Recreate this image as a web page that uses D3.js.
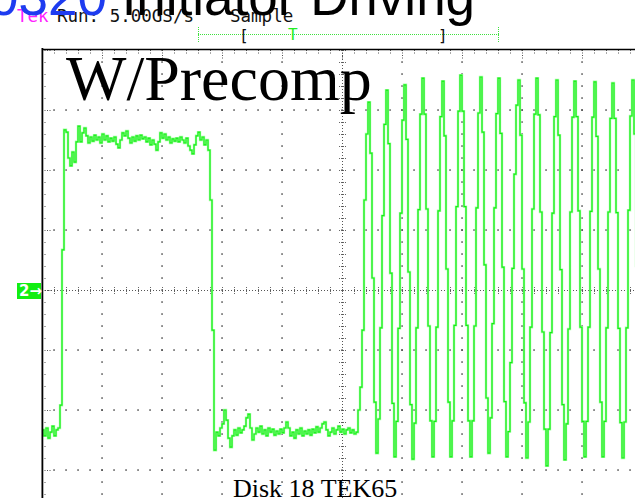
<!DOCTYPE html>
<html>
<head>
<meta charset="utf-8">
<script src="https://cdn.jsdelivr.net/npm/d3@7"></script>
<style>
  html, body { margin: 0; padding: 0; background: #ffffff; }
  svg { display: block; }
</style>
</head>
<body>
<svg id="scope" width="635" height="498"></svg>
<script>
// Channel 2 record, in vertical divisions from the ground marker, one sample per 1/30 div.
const leadIn = [-2.33, -2.43, -2.30, -2.47, -2.37, -2.27, -2.43, -2.33, -2.30, -1.92];
const highPulse = [
  0.67, 2.67, 2.63, 2.2, 2.07, 2.3, 2.13, 2.47, 2.73, 2.47,
  2.62, 2.7, 2.57, 2.45, 2.55, 2.48, 2.58, 2.5, 2.55, 2.45,
  2.6, 2.5, 2.57, 2.47, 2.53, 2.48, 2.55, 2.43, 2.37, 2.5,
  2.62, 2.57, 2.65, 2.53, 2.45, 2.55, 2.48, 2.57, 2.5, 2.58,
  2.52, 2.55, 2.47, 2.53, 2.42, 2.5, 2.43, 2.33, 2.47, 2.62,
  2.53, 2.6, 2.5, 2.55, 2.45, 2.52, 2.48, 2.53, 2.47, 2.55,
  2.5, 2.45, 2.53, 2.4, 2.33, 2.27, 2.42, 2.57, 2.63, 2.5,
  2.55, 2.42, 2.5, 2.33, 1.5, -0.67
];
const lowRun = [
  -2.67, -2.37, -2.43, -2.3, -2.23, -2.0, -2.17, -2.47, -2.62, -2.43,
  -2.33, -2.42, -2.3, -2.38, -2.33, -2.27, -2.13, -2.07, -2.3, -2.5,
  -2.4, -2.3, -2.37, -2.27, -2.4, -2.33, -2.43, -2.3, -2.37, -2.32,
  -2.42, -2.35, -2.4, -2.32, -2.38, -2.3, -2.2, -2.3, -2.43, -2.37,
  -2.47, -2.33, -2.4, -2.3, -2.43, -2.35, -2.4, -2.33, -2.42, -2.32,
  -2.38, -2.28, -2.37, -2.3, -2.23, -2.2, -2.33, -2.43, -2.37, -2.3,
  -2.4, -2.33, -2.27, -2.37, -2.32, -2.4, -2.33, -2.3, -2.38, -2.33, -2.4, -2.37
];
const toneBurst = [
  -2.0, -1.62, -0.67, 1.5, 2.6, 3.13, 2.28, 0.2, -1.87, -2.72,
  -2.15, -0.63, 1.24, 2.76, 3.33, 2.44, 0.28, -1.89, -2.78, -2.19,
  -0.64, 1.28, 2.83, 3.42, 2.51, 0.3, -1.91, -2.82, -2.22, -0.63,
  1.34, 2.93, 3.53, 2.93, 1.35, -0.6, -2.18, -2.78, -2.19, -0.62,
  1.32, 2.89, 3.48, 2.57, 0.35, -1.87, -2.78, -2.18, -0.59, 1.39,
  2.98, 3.58, 2.98, 1.39, -0.59, -2.18, -2.78, -2.18, -0.6, 1.37,
  2.95, 3.55, 2.63, 0.42, -1.8, -2.72, -2.13, -0.56, 1.37, 2.94,
  3.53, 2.61, 0.38, -1.86, -2.78, -2.36, -1.21, 0.36, 1.93, 3.08,
  3.5, 2.58, 0.35, -1.88, -2.8, -2.2, -0.62, 1.35, 2.93, 3.53,
  2.92, 1.3, -0.7, -2.32, -2.93, -2.32, -0.71, 1.28, 2.89, 3.5,
  2.58, 0.34, -1.91, -2.83, -2.23, -0.65, 1.3, 2.88, 3.48, 2.89,
  1.32, -0.62, -2.19, -2.78, -2.19, -0.62, 1.31, 2.88, 3.47, 2.56,
  0.35, -1.87, -2.78, -2.19, -0.63, 1.3, 2.86, 3.45, 2.86, 1.29,
  -0.64, -2.21, -2.8, -2.2, -0.63, 1.33, 2.9, 3.5, 2.6, 0.4, -1.8, -2.75
];
const sampleInterval = 1 / 30;   // divisions per sample

// Readout strings
const tekLabel = "Tek";
const runLabel = "Run: 5.00GS/s";
const modeLabel = "Sample";
const titleCode = "0320";
const titleText = " Initiator Driving";
const subtitle = "W/Precomp";
const footer = "Disk 18 TEK65";
const channelMarker = "2\u2192";

const trace = leadIn.concat(highPulse, lowRun, toneBurst)
  .map((v, i) => ({ t: i * sampleInterval, v: v }));

const svg = d3.select("#scope");
const W = 635, H = 498;

// Graticule: 10 x 8 divisions, 60 px each; left edge at 42, top at 50.
const x = d3.scaleLinear().domain([0, 10]).range([42, 642]);
const y = d3.scaleLinear().domain([-4, 4]).range([530, 50]);

svg.append("defs").append("clipPath").attr("id", "screen")
  .append("rect").attr("x", 43).attr("y", 50).attr("width", W - 43).attr("height", H - 50);

const grid = svg.append("g").attr("clip-path", "url(#screen)");
const minor = d3.range(0, 50.01, 1).map(k => k * 0.2);   // 0..10 in 0.2 div
const minorV = d3.range(-20, 20.01, 1).map(k => k * 0.2); // -4..4

// dotted major lines
const dotColor = "#4a4a4a";
[1, 2, 3, 4, 6, 7, 8, 9].forEach(t => {
  grid.selectAll(null).data(minorV).enter().append("rect")
    .attr("x", x(t) - 0.7).attr("y", d => y(d) - 0.7)
    .attr("width", 1.5).attr("height", 1.5).attr("fill", dotColor);
});
[3, 2, 1, -1, -2, -3].forEach(v => {
  grid.selectAll(null).data(minor).enter().append("rect")
    .attr("x", d => x(d) - 0.7).attr("y", y(v) - 0.7)
    .attr("width", 1.5).attr("height", 1.5).attr("fill", dotColor);
});

// centre cross-hair with minor ticks
grid.append("line").attr("x1", x(5) + 0.5).attr("x2", x(5) + 0.5)
  .attr("y1", y(4)).attr("y2", y(-4))
  .attr("stroke", "#555").attr("stroke-width", 1).attr("stroke-dasharray", "1,2");
grid.append("line").attr("x1", x(0)).attr("x2", x(10))
  .attr("y1", y(0) + 0.5).attr("y2", y(0) + 0.5)
  .attr("stroke", "#555").attr("stroke-width", 1).attr("stroke-dasharray", "1,2");
grid.selectAll(null).data(minorV).enter().append("line")
  .attr("x1", x(5) - 3).attr("x2", x(5) + 4)
  .attr("y1", d => y(d) + 0.5).attr("y2", d => y(d) + 0.5)
  .attr("stroke", "#666").attr("stroke-width", 1).attr("stroke-dasharray", "1,1");
grid.selectAll(null).data(minor).enter().append("line")
  .attr("x1", d => x(d) + 0.5).attr("x2", d => x(d) + 0.5)
  .attr("y1", y(0) - 3).attr("y2", y(0) + 4)
  .attr("stroke", "#666").attr("stroke-width", 1).attr("stroke-dasharray", "1,1");

// border ticks along top and left edges
grid.selectAll(null).data(minor).enter().append("line")
  .attr("x1", d => x(d) + 0.5).attr("x2", d => x(d) + 0.5)
  .attr("y1", y(4)).attr("y2", d => Math.abs(d - Math.round(d)) < 1e-6 ? y(4) + 9 : y(4) + 4)
  .attr("stroke", "#555").attr("stroke-width", 1).attr("stroke-dasharray", "1,1.5");
grid.selectAll(null).data(minorV).enter().append("line")
  .attr("x1", x(0)).attr("x2", d => Math.abs(d - Math.round(d)) < 1e-6 ? x(0) + 9 : x(0) + 4)
  .attr("y1", d => y(d) + 0.5).attr("y2", d => y(d) + 0.5)
  .attr("stroke", "#555").attr("stroke-width", 1).attr("stroke-dasharray", "1,1.5");

// Waveform: soft glow under a bright core
const line = d3.line().x(d => x(d.t)).y(d => y(d.v)).curve(d3.curveStepAfter);
grid.append("path").datum(trace)
  .attr("d", line).attr("fill", "none")
  .attr("stroke", "#a6ffa6").attr("stroke-width", 2.4).attr("stroke-linejoin", "miter");
grid.append("path").datum(trace)
  .attr("d", line).attr("fill", "none")
  .attr("stroke", "#14ee14").attr("stroke-width", 1.2).attr("stroke-linejoin", "miter");

// Screen border
svg.append("line").attr("x1", 41.5).attr("x2", 41.5).attr("y1", 48).attr("y2", H)
  .attr("stroke", "#b0b0b0").attr("stroke-width", 1);
svg.append("line").attr("x1", 42.5).attr("x2", 42.5).attr("y1", 48).attr("y2", H)
  .attr("stroke", "#000").attr("stroke-width", 1.6);
svg.append("line").attr("x1", 42).attr("x2", W).attr("y1", 49.5).attr("y2", 49.5)
  .attr("stroke", "#000").attr("stroke-width", 1.4);

// Channel ground marker
const marker = svg.append("g").attr("transform", `translate(17, ${y(0) - 7})`);
marker.append("rect").attr("width", 24).attr("height", 16).attr("fill", "#12ee12");
marker.append("text").attr("x", 2).attr("y", 13)
  .attr("font-family", "DejaVu Sans, sans-serif").attr("font-weight", "bold")
  .attr("font-size", 15).attr("fill", "#fff").text(channelMarker);

// Trigger position bar
const trig = svg.append("g");
trig.append("line").attr("x1", 198).attr("x2", 499).attr("y1", 34.5).attr("y2", 34.5)
  .attr("stroke", "#3ee03e").attr("stroke-width", 1).attr("stroke-dasharray", "1,1");
[198.5, 498.5].forEach(px => {
  trig.append("line").attr("x1", px).attr("x2", px).attr("y1", 27).attr("y2", 43)
    .attr("stroke", "#3ee03e").attr("stroke-width", 1).attr("stroke-dasharray", "1,1");
});
trig.append("text").attr("x", 239).attr("y", 41).attr("font-family", "DejaVu Sans Mono, monospace")
  .attr("font-size", 16).attr("fill", "#111").text("[");
trig.append("text").attr("x", 438).attr("y", 41).attr("font-family", "DejaVu Sans Mono, monospace")
  .attr("font-size", 16).attr("fill", "#111").text("]");
trig.append("text").attr("x", 288).attr("y", 40).attr("font-family", "DejaVu Sans Mono, monospace")
  .attr("font-size", 16).attr("fill", "#22ee22").text("T");

// Acquisition readout
const mono = "DejaVu Sans Mono, monospace";
svg.append("text").attr("x", 17).attr("y", 22).attr("font-family", mono).attr("font-size", 17.5)
  .attr("fill", "#ff22ff").text(tekLabel);
svg.append("text").attr("x", 57).attr("y", 22).attr("font-family", mono).attr("font-size", 17.5)
  .attr("fill", "#111").text(runLabel);
svg.append("text").attr("x", 230).attr("y", 22).attr("font-family", mono).attr("font-size", 17.5)
  .attr("fill", "#111").text(modeLabel);

// Annotation text
const title = svg.append("text").attr("x", -11).attr("y", 15)
  .attr("font-family", "Liberation Sans, Arial, sans-serif").attr("font-size", 53)
  .style("white-space", "pre");
title.append("tspan").attr("fill", "#1e3cf0").text(titleCode);
title.append("tspan").attr("fill", "#000").text(titleText);

svg.append("text").attr("x", 66).attr("y", 100)
  .attr("font-family", "Liberation Serif, Times New Roman, serif").attr("font-size", 64)
  .attr("fill", "#000").text(subtitle);

svg.append("text").attr("x", 233).attr("y", 497)
  .attr("font-family", "Liberation Serif, Times New Roman, serif").attr("font-size", 26)
  .attr("fill", "#000").text(footer);
</script>
</body>
</html>
